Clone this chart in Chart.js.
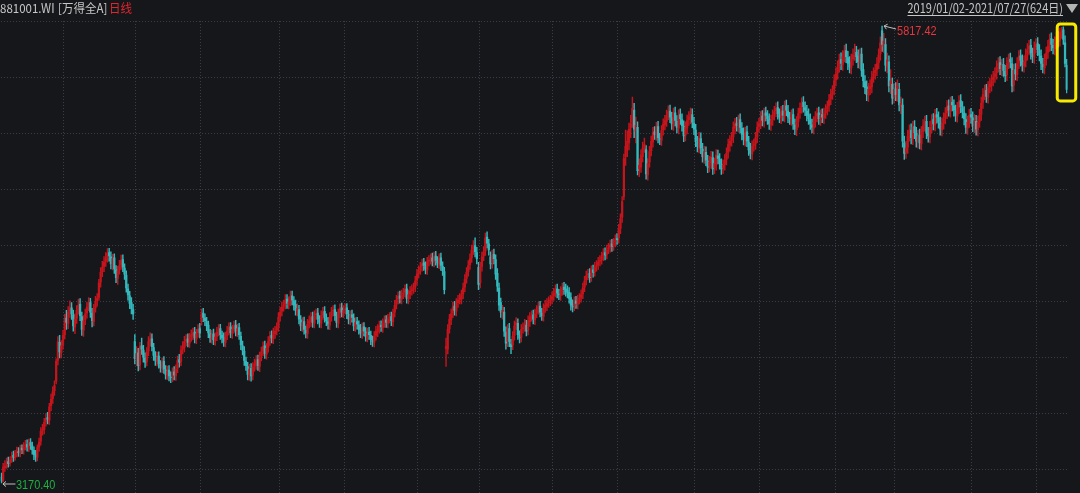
<!DOCTYPE html>
<html>
<head>
<meta charset="utf-8">
<script src="https://cdn.jsdelivr.net/npm/chart.js"></script>
<style>
  html, body { margin: 0; padding: 0; background: #15171b; }
  #wrap { width: 1080px; height: 493px; }
</style>
</head>
<body>
<div id="wrap"><canvas id="kline"></canvas></div>
<script>
// 881001.WI daily candles, 2019/01/02 - 2021/07/27 (624 sessions)
const opens = [
  3205, 3185, 3258, 3275, 3294, 3286, 3310, 3330, 3320, 3345,
  3352, 3344, 3372, 3360, 3384, 3395, 3374, 3404, 3386, 3360,
  3338, 3320, 3378, 3412, 3475, 3480, 3525, 3550, 3535, 3618,
  3660, 3705, 3760, 3880, 3985, 3925, 3970, 4030, 4125, 4095,
  4165, 4185, 4145, 4075, 4125, 4175, 4205, 4135, 4055, 4115,
  4155, 4195, 4215, 4155, 4105, 4185, 4225, 4245, 4335, 4395,
  4425, 4455, 4475, 4505, 4480, 4435, 4475, 4405, 4355, 4405,
  4435, 4465, 4415, 4375, 4295, 4255, 4215, 4175, 3990, 3885,
  3925, 3855, 3965, 3940, 3895, 3875, 3935, 3995, 4005, 3955,
  3905, 3875, 3905, 3855, 3835, 3875, 3825, 3795, 3825, 3785,
  3785, 3815, 3790, 3835, 3885, 3875, 3945, 3955, 3995, 4005,
  3980, 4015, 4025, 4045, 4005, 4040, 4065, 4110, 4155, 4125,
  4105, 4085, 4035, 4005, 4035, 3995, 4020, 4050, 4065, 4025,
  4015, 3985, 4025, 4055, 4075, 4035, 4065, 4085, 4045, 4070,
  4020, 3965, 3935, 3875, 3845, 3795, 3835, 3795, 3845, 3855,
  3885, 3845, 3905, 3935, 3965, 3915, 3955, 3995, 4025, 4005,
  4035, 4055, 4075, 4135, 4165, 4195, 4205, 4235, 4205, 4225,
  4255, 4225, 4205, 4165, 4175, 4115, 4075, 4105, 4055, 4035,
  4095, 4105, 4135, 4095, 4145, 4155, 4115, 4095, 4145, 4165,
  4125, 4105, 4085, 4135, 4165, 4175, 4135, 4095, 4155, 4185,
  4155, 4175, 4185, 4145, 4115, 4145, 4125, 4075, 4105, 4085,
  4065, 4035, 4075, 4045, 4015, 4045, 4025, 3995, 3985, 4025,
  4045, 4065, 4085, 4070, 4100, 4115, 4095, 4125, 4135, 4105,
  4160, 4205, 4235, 4255, 4235, 4265, 4275, 4295, 4235, 4265,
  4285, 4295, 4305, 4345, 4385, 4405, 4425, 4445, 4425, 4405,
  4455, 4465, 4475, 4450, 4485, 4455, 4440, 4475, 4425, 4395,
  3950, 3945, 4065, 4115, 4155, 4195, 4165, 4215, 4235, 4235,
  4265, 4305, 4355, 4395, 4435, 4475, 4525, 4545, 4505, 4420,
  4330, 4425, 4485, 4515, 4595, 4555, 4480, 4445, 4495, 4465,
  4385, 4300, 4215, 4150, 4160, 4045, 3990, 4065, 3975, 3970,
  4025, 4085, 4095, 4025, 4015, 4065, 4075, 4085, 4055, 4105,
  4135, 4145, 4115, 4155, 4175, 4195, 4155, 4135, 4185, 4195,
  4215, 4225, 4235, 4255, 4275, 4295, 4265, 4255, 4285, 4305,
  4295, 4285, 4275, 4245, 4205, 4195, 4225, 4205, 4235, 4245,
  4265, 4305, 4345, 4375, 4385, 4365, 4405, 4395, 4425, 4435,
  4455, 4465, 4485, 4505, 4495, 4525, 4535, 4555, 4545, 4565,
  4585, 4590, 4645, 4710, 4830, 5060, 5100, 5140, 5230, 5260,
  5330, 5210, 5230, 4990, 5000, 5060, 5115, 5100, 4955, 5030,
  5095, 5145, 5205, 5185, 5235, 5165, 5155, 5215, 5245, 5265,
  5305, 5325, 5285, 5245, 5315, 5265, 5225, 5305, 5275, 5235,
  5185, 5225, 5275, 5285, 5305, 5255, 5215, 5145, 5115, 5165,
  5105, 5055, 5085, 5035, 5005, 5025, 5055, 4995, 5015, 5065,
  5045, 5015, 4995, 5015, 5045, 5085, 5125, 5155, 5175, 5225,
  5255, 5235, 5275, 5225, 5195, 5155, 5205, 5145, 5105, 5075,
  5125, 5135, 5175, 5235, 5255, 5295, 5265, 5315, 5295, 5275,
  5245, 5275, 5305, 5325, 5345, 5305, 5285, 5325, 5295, 5355,
  5325, 5285, 5275, 5305, 5245, 5215, 5265, 5315, 5345, 5375,
  5345, 5325, 5305, 5275, 5245, 5225, 5265, 5295, 5315, 5275,
  5305, 5285, 5315, 5335, 5355, 5395, 5425, 5450, 5505, 5545,
  5585, 5625, 5595, 5645, 5675, 5635, 5605, 5575, 5625, 5655,
  5665, 5645, 5605, 5655, 5565, 5495, 5465, 5415, 5455, 5465,
  5525, 5545, 5565, 5605, 5655, 5790, 5700, 5710, 5580, 5610,
  5460, 5480, 5405, 5455, 5415, 5450, 5350, 5360, 5140, 5085,
  5115, 5185, 5215, 5165, 5235, 5195, 5145, 5185, 5135, 5205,
  5245, 5265, 5195, 5175, 5235, 5275, 5245, 5305, 5285, 5255,
  5215, 5255, 5285, 5315, 5355, 5325, 5375, 5355, 5325, 5295,
  5345, 5385, 5345, 5315, 5275, 5225, 5265, 5305, 5285, 5235,
  5265, 5215, 5265, 5305, 5375, 5425, 5445, 5405, 5465, 5475,
  5505, 5525, 5545, 5585, 5605, 5565, 5595, 5555, 5535, 5605,
  5625, 5600, 5475, 5565, 5535, 5605, 5645, 5615, 5585, 5615,
  5655, 5685, 5705, 5655, 5635, 5695, 5715, 5675, 5645, 5595,
  5575, 5625, 5665, 5705, 5745, 5705, 5685, 5725, 5755, 5735,
  5775, 5795, 5720, 5590
];
const highs = [
  3228, 3285, 3300, 3315, 3320, 3322, 3350, 3355, 3360, 3378,
  3375, 3390, 3392, 3405, 3418, 3420, 3425, 3428, 3408, 3380,
  3360, 3392, 3430, 3492, 3510, 3545, 3572, 3580, 3632, 3685,
  3728, 3762, 3890, 4018, 4025, 3995, 4055, 4148, 4170, 4192,
  4225, 4215, 4172, 4150, 4198, 4235, 4238, 4160, 4140, 4178,
  4218, 4245, 4240, 4182, 4205, 4252, 4268, 4350, 4418, 4455,
  4482, 4505, 4528, 4530, 4510, 4495, 4498, 4430, 4425, 4460,
  4490, 4492, 4440, 4400, 4322, 4280, 4245, 4205, 4030, 3960,
  3950, 3985, 4010, 3968, 3925, 3955, 4018, 4040, 4035, 3980,
  3932, 3928, 3930, 3880, 3895, 3902, 3850, 3848, 3850, 3815,
  3838, 3845, 3855, 3905, 3915, 3965, 3990, 4020, 4030, 4035,
  4038, 4058, 4068, 4072, 4060, 4088, 4095, 4178, 4182, 4150,
  4130, 4108, 4060, 4055, 4062, 4040, 4072, 4088, 4090, 4050,
  4040, 4045, 4078, 4098, 4100, 4085, 4108, 4112, 4090, 4095,
  4045, 3992, 3960, 3900, 3870, 3858, 3862, 3868, 3888, 3908,
  3912, 3928, 3958, 3988, 3992, 3978, 4018, 4048, 4052, 4068,
  4078, 4098, 4158, 4188, 4218, 4230, 4262, 4262, 4248, 4282,
  4282, 4250, 4230, 4208, 4200, 4140, 4128, 4132, 4080, 4118,
  4138, 4158, 4160, 4168, 4178, 4182, 4140, 4168, 4188, 4192,
  4150, 4130, 4158, 4188, 4198, 4202, 4160, 4178, 4208, 4212,
  4198, 4208, 4210, 4170, 4168, 4172, 4150, 4128, 4130, 4110,
  4090, 4098, 4100, 4070, 4068, 4072, 4050, 4022, 4048, 4078,
  4088, 4108, 4110, 4122, 4138, 4140, 4148, 4158, 4160, 4178,
  4228, 4258, 4278, 4282, 4288, 4298, 4318, 4322, 4288, 4308,
  4318, 4328, 4368, 4408, 4428, 4448, 4468, 4472, 4452, 4478,
  4488, 4498, 4502, 4508, 4512, 4482, 4498, 4502, 4452, 4420,
  4010, 4088, 4148, 4178, 4218, 4222, 4238, 4258, 4268, 4288,
  4328, 4378, 4418, 4458, 4498, 4548, 4575, 4590, 4535, 4448,
  4448, 4508, 4540, 4618, 4625, 4582, 4510, 4520, 4525, 4492,
  4412, 4328, 4242, 4200, 4188, 4075, 4088, 4095, 4002, 4048,
  4108, 4128, 4122, 4052, 4088, 4098, 4118, 4112, 4138, 4158,
  4168, 4172, 4178, 4198, 4218, 4222, 4182, 4208, 4228, 4238,
  4248, 4258, 4278, 4298, 4318, 4322, 4292, 4308, 4328, 4332,
  4322, 4312, 4302, 4272, 4232, 4248, 4252, 4258, 4268, 4288,
  4328, 4368, 4398, 4408, 4412, 4428, 4432, 4448, 4458, 4478,
  4488, 4508, 4528, 4532, 4548, 4558, 4578, 4582, 4588, 4608,
  4615, 4668, 4730, 4830, 5075, 5215, 5210, 5255, 5300, 5405,
  5370, 5290, 5262, 5048, 5100, 5145, 5168, 5125, 5050, 5120,
  5180, 5230, 5235, 5260, 5265, 5195, 5240, 5280, 5300, 5330,
  5355, 5360, 5318, 5342, 5348, 5298, 5332, 5338, 5308, 5268,
  5262, 5302, 5322, 5342, 5338, 5288, 5248, 5178, 5202, 5198,
  5138, 5122, 5118, 5068, 5062, 5092, 5088, 5052, 5102, 5098,
  5078, 5048, 5042, 5072, 5112, 5162, 5182, 5202, 5262, 5282,
  5288, 5302, 5308, 5258, 5228, 5232, 5238, 5178, 5138, 5152,
  5162, 5202, 5262, 5282, 5322, 5328, 5342, 5348, 5328, 5308,
  5302, 5332, 5352, 5372, 5378, 5338, 5352, 5358, 5382, 5388,
  5358, 5318, 5332, 5338, 5278, 5292, 5342, 5372, 5402, 5408,
  5378, 5358, 5338, 5308, 5278, 5292, 5322, 5342, 5348, 5332,
  5338, 5342, 5362, 5382, 5422, 5452, 5472, 5535, 5575, 5615,
  5655, 5662, 5675, 5705, 5712, 5670, 5640, 5655, 5685, 5712,
  5700, 5680, 5685, 5690, 5600, 5530, 5500, 5485, 5505, 5555,
  5575, 5595, 5635, 5685, 5755, 5817.42, 5775, 5745, 5660, 5645,
  5565, 5515, 5485, 5490, 5505, 5485, 5405, 5395, 5180, 5150,
  5215, 5245, 5250, 5265, 5270, 5230, 5215, 5220, 5235, 5275,
  5295, 5300, 5230, 5265, 5305, 5310, 5335, 5340, 5320, 5290,
  5285, 5315, 5345, 5385, 5390, 5405, 5410, 5390, 5360, 5375,
  5415, 5420, 5380, 5350, 5310, 5295, 5335, 5340, 5320, 5305,
  5300, 5295, 5335, 5405, 5455, 5475, 5480, 5495, 5515, 5535,
  5555, 5575, 5615, 5635, 5640, 5625, 5630, 5590, 5635, 5655,
  5660, 5635, 5595, 5600, 5635, 5675, 5680, 5650, 5645, 5685,
  5715, 5735, 5740, 5690, 5725, 5745, 5750, 5710, 5680, 5630,
  5655, 5695, 5735, 5770, 5778, 5740, 5755, 5782, 5785, 5805,
  5810, 5812, 5760, 5625
];
const lows = [
  3170.4, 3176, 3238, 3255, 3262, 3268, 3290, 3296, 3302, 3322,
  3325, 3322, 3340, 3338, 3362, 3355, 3352, 3365, 3338, 3305,
  3295, 3298, 3355, 3390, 3448, 3455, 3500, 3512, 3510, 3590,
  3632, 3678, 3745, 3855, 3895, 3895, 3945, 4005, 4060, 4065,
  4130, 4118, 4050, 4035, 4095, 4148, 4110, 4025, 4020, 4088,
  4125, 4168, 4130, 4075, 4080, 4160, 4195, 4230, 4305, 4365,
  4395, 4425, 4450, 4455, 4410, 4405, 4385, 4330, 4320, 4380,
  4408, 4395, 4350, 4275, 4230, 4180, 4150, 4118, 3860, 3850,
  3820, 3825, 3915, 3870, 3840, 3848, 3908, 3965, 3935, 3880,
  3852, 3848, 3835, 3812, 3810, 3805, 3772, 3770, 3762, 3752,
  3758, 3768, 3765, 3810, 3842, 3850, 3918, 3930, 3965, 3958,
  3955, 3990, 4000, 3982, 3978, 4015, 4010, 4085, 4105, 4082,
  4052, 4012, 3985, 3980, 3972, 3968, 3995, 4022, 4002, 3982,
  3962, 3958, 4000, 4028, 4012, 4008, 4040, 4022, 4018, 4002,
  3942, 3912, 3852, 3822, 3768, 3765, 3760, 3768, 3818, 3828,
  3822, 3815, 3878, 3908, 3892, 3888, 3928, 3968, 3982, 3978,
  4008, 4028, 4048, 4108, 4138, 4165, 4178, 4182, 4178, 4198,
  4202, 4172, 4142, 4138, 4092, 4052, 4048, 4032, 4010, 4008,
  4068, 4078, 4072, 4068, 4118, 4092, 4072, 4068, 4118, 4102,
  4082, 4062, 4058, 4108, 4138, 4112, 4072, 4068, 4128, 4132,
  4128, 4148, 4122, 4092, 4088, 4102, 4052, 4048, 4062, 4032,
  4012, 4008, 4022, 3992, 3988, 4002, 3972, 3962, 3958, 3998,
  4018, 4038, 4048, 4042, 4072, 4072, 4068, 4098, 4082, 4078,
  4132, 4178, 4208, 4212, 4208, 4238, 4248, 4212, 4208, 4238,
  4258, 4268, 4278, 4318, 4358, 4378, 4398, 4402, 4382, 4378,
  4428, 4438, 4428, 4422, 4432, 4418, 4412, 4402, 4372, 4265,
  3845, 3918, 4038, 4088, 4128, 4142, 4138, 4188, 4208, 4208,
  4238, 4278, 4328, 4368, 4408, 4448, 4495, 4480, 4440, 4290,
  4300, 4398, 4458, 4488, 4532, 4490, 4410, 4415, 4440, 4350,
  4280, 4170, 4130, 4120, 4020, 3945, 3960, 3960, 3920, 3942,
  3998, 4058, 4002, 3982, 3988, 4038, 4048, 4022, 4028, 4078,
  4108, 4092, 4088, 4128, 4148, 4132, 4112, 4108, 4158, 4168,
  4188, 4198, 4208, 4228, 4248, 4242, 4232, 4228, 4258, 4262,
  4252, 4242, 4212, 4172, 4162, 4168, 4182, 4178, 4208, 4218,
  4238, 4278, 4318, 4348, 4332, 4338, 4362, 4368, 4398, 4408,
  4428, 4438, 4458, 4462, 4468, 4498, 4508, 4512, 4518, 4538,
  4552, 4560, 4615, 4680, 4810, 5010, 5060, 5100, 5170, 5230,
  5170, 5140, 4955, 4945, 4970, 5030, 5085, 4930, 4925, 5000,
  5065, 5115, 5160, 5155, 5140, 5130, 5125, 5185, 5215, 5235,
  5275, 5258, 5218, 5212, 5238, 5198, 5192, 5248, 5208, 5148,
  5152, 5192, 5242, 5252, 5228, 5188, 5118, 5088, 5082, 5078,
  5028, 5022, 5008, 4968, 4972, 4992, 4958, 4962, 4982, 5018,
  4988, 4958, 4962, 4982, 5012, 5052, 5092, 5122, 5142, 5192,
  5208, 5202, 5198, 5158, 5128, 5122, 5118, 5068, 5048, 5042,
  5092, 5102, 5142, 5202, 5222, 5238, 5232, 5268, 5248, 5218,
  5212, 5242, 5272, 5292, 5278, 5258, 5252, 5268, 5262, 5298,
  5258, 5248, 5242, 5218, 5188, 5182, 5232, 5282, 5312, 5318,
  5298, 5268, 5248, 5218, 5198, 5192, 5232, 5262, 5248, 5242,
  5258, 5252, 5282, 5302, 5322, 5362, 5392, 5418, 5470, 5510,
  5550, 5565, 5560, 5610, 5605, 5565, 5545, 5540, 5590, 5618,
  5605, 5575, 5570, 5525, 5465, 5425, 5385, 5380, 5420, 5430,
  5490, 5510, 5530, 5570, 5620, 5670, 5665, 5555, 5545, 5435,
  5425, 5365, 5370, 5385, 5380, 5325, 5310, 5115, 5045, 5050,
  5080, 5150, 5135, 5130, 5165, 5115, 5110, 5105, 5100, 5170,
  5210, 5165, 5145, 5140, 5200, 5215, 5210, 5255, 5225, 5185,
  5180, 5220, 5250, 5280, 5295, 5290, 5325, 5295, 5265, 5260,
  5310, 5315, 5285, 5245, 5195, 5190, 5230, 5255, 5205, 5200,
  5185, 5180, 5230, 5270, 5340, 5390, 5375, 5370, 5430, 5440,
  5470, 5490, 5510, 5550, 5535, 5530, 5525, 5495, 5500, 5570,
  5575, 5435, 5440, 5505, 5500, 5570, 5585, 5555, 5550, 5580,
  5620, 5650, 5625, 5605, 5600, 5660, 5645, 5615, 5565, 5545,
  5540, 5590, 5630, 5670, 5675, 5655, 5650, 5690, 5695, 5700,
  5745, 5710, 5580, 5430
];
const closes = [
  3183, 3262, 3270, 3290, 3282, 3305, 3325, 3318, 3342, 3350,
  3346, 3368, 3362, 3380, 3392, 3378, 3400, 3388, 3362, 3335,
  3322, 3375, 3408, 3470, 3482, 3522, 3545, 3538, 3612, 3655,
  3700, 3735, 3875, 3990, 3930, 3965, 4025, 4120, 4100, 4160,
  4180, 4150, 4080, 4120, 4170, 4200, 4140, 4060, 4110, 4150,
  4190, 4210, 4160, 4110, 4180, 4220, 4240, 4330, 4390, 4420,
  4450, 4470, 4500, 4485, 4440, 4470, 4410, 4360, 4400, 4430,
  4460, 4420, 4380, 4300, 4260, 4210, 4180, 4150, 3890, 3920,
  3850, 3960, 3945, 3900, 3870, 3930, 3990, 4000, 3960, 3910,
  3880, 3900, 3860, 3840, 3870, 3830, 3800, 3820, 3790, 3780,
  3810, 3795, 3830, 3880, 3870, 3940, 3960, 3990, 4000, 3985,
  4010, 4030, 4040, 4010, 4035, 4060, 4040, 4150, 4130, 4110,
  4080, 4040, 4010, 4030, 4000, 4015, 4045, 4060, 4030, 4010,
  3990, 4020, 4050, 4070, 4040, 4060, 4080, 4050, 4065, 4030,
  3970, 3940, 3880, 3850, 3800, 3830, 3790, 3840, 3860, 3880,
  3850, 3900, 3930, 3960, 3920, 3950, 3990, 4020, 4010, 4040,
  4050, 4070, 4130, 4160, 4190, 4200, 4230, 4210, 4220, 4250,
  4230, 4200, 4170, 4180, 4120, 4080, 4100, 4060, 4040, 4090,
  4110, 4130, 4100, 4140, 4150, 4120, 4100, 4140, 4160, 4130,
  4110, 4090, 4130, 4160, 4170, 4140, 4100, 4150, 4180, 4160,
  4170, 4180, 4150, 4120, 4140, 4130, 4080, 4100, 4090, 4060,
  4040, 4070, 4050, 4020, 4040, 4030, 4000, 3990, 4020, 4050,
  4060, 4080, 4075, 4095, 4110, 4100, 4120, 4130, 4110, 4150,
  4200, 4230, 4250, 4240, 4260, 4270, 4290, 4240, 4260, 4280,
  4290, 4300, 4340, 4380, 4400, 4420, 4440, 4430, 4410, 4450,
  4460, 4470, 4455, 4480, 4460, 4445, 4470, 4430, 4400, 4290,
  3960, 4060, 4120, 4150, 4190, 4170, 4210, 4230, 4240, 4260,
  4300, 4350, 4390, 4430, 4470, 4520, 4540, 4510, 4470, 4320,
  4420, 4480, 4510, 4590, 4560, 4520, 4440, 4490, 4470, 4380,
  4310, 4200, 4160, 4170, 4050, 3980, 4060, 3990, 3960, 4020,
  4080, 4100, 4030, 4010, 4060, 4070, 4090, 4050, 4110, 4130,
  4140, 4120, 4150, 4170, 4190, 4160, 4140, 4180, 4200, 4210,
  4220, 4230, 4250, 4270, 4290, 4270, 4260, 4280, 4300, 4290,
  4280, 4270, 4240, 4200, 4190, 4220, 4210, 4230, 4240, 4260,
  4300, 4340, 4370, 4380, 4360, 4400, 4390, 4420, 4430, 4450,
  4460, 4480, 4500, 4490, 4520, 4530, 4550, 4540, 4560, 4580,
  4580, 4640, 4700, 4800, 5050, 5120, 5150, 5220, 5250, 5340,
  5220, 5240, 4980, 5010, 5070, 5110, 5130, 4960, 5020, 5090,
  5150, 5200, 5190, 5230, 5170, 5160, 5210, 5250, 5270, 5300,
  5320, 5290, 5250, 5310, 5270, 5230, 5300, 5280, 5240, 5180,
  5230, 5270, 5290, 5310, 5260, 5220, 5150, 5120, 5170, 5110,
  5060, 5090, 5040, 5000, 5030, 5060, 4990, 5020, 5070, 5050,
  5020, 4990, 5010, 5040, 5080, 5130, 5150, 5170, 5230, 5250,
  5240, 5270, 5230, 5190, 5160, 5200, 5150, 5100, 5080, 5120,
  5130, 5170, 5230, 5250, 5290, 5270, 5310, 5300, 5280, 5250,
  5270, 5300, 5320, 5340, 5310, 5290, 5320, 5300, 5350, 5330,
  5290, 5280, 5300, 5250, 5220, 5260, 5310, 5340, 5370, 5350,
  5330, 5300, 5280, 5250, 5230, 5260, 5290, 5310, 5280, 5300,
  5290, 5310, 5330, 5350, 5390, 5420, 5440, 5500, 5540, 5580,
  5620, 5600, 5640, 5670, 5640, 5600, 5580, 5620, 5650, 5660,
  5640, 5610, 5650, 5560, 5500, 5460, 5420, 5450, 5470, 5520,
  5540, 5560, 5600, 5650, 5720, 5710, 5730, 5590, 5620, 5470,
  5500, 5400, 5450, 5420, 5470, 5360, 5370, 5150, 5080, 5110,
  5180, 5210, 5170, 5230, 5200, 5150, 5180, 5140, 5200, 5240,
  5260, 5200, 5180, 5230, 5270, 5250, 5300, 5290, 5260, 5220,
  5250, 5280, 5310, 5350, 5330, 5370, 5360, 5330, 5300, 5340,
  5380, 5350, 5320, 5280, 5230, 5260, 5300, 5290, 5240, 5270,
  5220, 5260, 5300, 5370, 5420, 5440, 5410, 5460, 5480, 5500,
  5520, 5540, 5580, 5600, 5570, 5590, 5560, 5530, 5600, 5620,
  5610, 5470, 5560, 5540, 5600, 5640, 5620, 5590, 5610, 5650,
  5680, 5700, 5660, 5640, 5690, 5710, 5680, 5650, 5600, 5580,
  5620, 5660, 5700, 5740, 5710, 5690, 5720, 5750, 5730, 5780,
  5790, 5740, 5600, 5450
];
// first session of every second month (Mar, May, Jul, ...) -> vertical dotted lines
const monthStarts = [37, 79, 117, 163, 201, 244, 280, 323, 361, 406, 444, 488, 523, 568, 606];
// horizontal dotted lines
const yGrid = [3246, 3571, 3896, 4221, 4546, 4871, 5196, 5521, 5846];
const yMin = 3112.5, yMax = 5846.3;

const upColor = '#c4141c';
const downColor = '#34b8bc';
const gridColor = '#3a3d45';
const labels = closes.map((c, i) => i);
const candleColor = closes.map((c, i) => c >= opens[i] ? upColor : downColor);

// text squeezed sideways a little, the original uses a narrow UI font
function squeezed(ctx, str, x, y, color, font, sx, align) {
  ctx.save();
  ctx.font = font;
  ctx.fillStyle = color;
  ctx.textAlign = align || 'left';
  ctx.textBaseline = 'middle';
  ctx.translate(x, y);
  ctx.scale(sx, 1);
  ctx.fillText(str, 0, 0);
  const w = ctx.measureText(str).width * sx;
  ctx.restore();
  return w;
}

const overlay = {
  id: 'overlay',
  beforeDraw(chart) {
    const c = chart.ctx;
    c.save();
    c.fillStyle = '#15171b';
    c.fillRect(0, 0, chart.width, chart.height);
    c.restore();
  },
  afterDraw(chart) {
    const ctx = chart.ctx;
    const xs = chart.scales.x, ys = chart.scales.y;
    const cjk = '12.5px "Noto Sans CJK SC", sans-serif';

    // header, left
    squeezed(ctx, '881001.WI', 0, 8, '#c6c6c6', cjk, 0.92);
    squeezed(ctx, '[万得全A]', 58, 8, '#c6c6c6', cjk, 0.92);
    squeezed(ctx, '日线', 109, 8, '#e0262c', cjk, 0.92);

    // header, right
    const w = squeezed(ctx, '2019/01/02-2021/07/27(624日)', 1063, 8, '#c6c6c6', cjk, 0.88, 'right');
    ctx.save();
    ctx.fillStyle = '#c6c6c6';
    ctx.fillRect(1063 - w, 15, w, 1);
    ctx.fillStyle = '#b4b4b4';
    ctx.beginPath();
    ctx.moveTo(1066, 4); ctx.lineTo(1078, 4); ctx.lineTo(1072, 13);
    ctx.closePath(); ctx.fill();
    ctx.restore();

    // max / min markers
    let iMax = 0, iMin = 0;
    highs.forEach((h, i) => { if (h > highs[iMax]) iMax = i; });
    lows.forEach((l, i) => { if (l < lows[iMin]) iMin = i; });
    const arrow = (x1, y1, x2, y2) => {
      ctx.save();
      ctx.strokeStyle = '#c0c0c0';
      ctx.lineWidth = 1;
      ctx.beginPath();
      ctx.moveTo(x2, y2); ctx.lineTo(x1, y1);
      const a = Math.atan2(y2 - y1, x2 - x1);
      ctx.moveTo(x1 + 4 * Math.cos(a - 0.7), y1 + 4 * Math.sin(a - 0.7));
      ctx.lineTo(x1, y1);
      ctx.lineTo(x1 + 4 * Math.cos(a + 0.7), y1 + 4 * Math.sin(a + 0.7));
      ctx.stroke();
      ctx.restore();
    };
    const num = '13px "Liberation Sans", Arial, sans-serif';
    let px = xs.getPixelForValue(iMax), py = ys.getPixelForValue(highs[iMax]);
    arrow(px + 2, py, px + 14, py + 3);
    squeezed(ctx, highs[iMax].toFixed(2), px + 15, py + 5, '#e8363d', num, 0.84);
    px = xs.getPixelForValue(iMin); py = ys.getPixelForValue(lows[iMin]);
    arrow(px + 1.5, py + 1, px + 14, py + 1);
    squeezed(ctx, lows[iMin].toFixed(2), px + 14.5, py + 2, '#1fb040', num, 0.84);

    // yellow highlight round the last sessions
    const n = closes.length;
    const tail = [n - 4, n - 3, n - 2, n - 1];
    const top = ys.getPixelForValue(Math.max(...tail.map(i => highs[i]))) - 3;
    const bot = ys.getPixelForValue(Math.min(...tail.map(i => lows[i]))) + 8;
    const xl = xs.getPixelForValue(n - 1) - 9.5, xr = xs.getPixelForValue(n - 1) + 9;
    ctx.save();
    ctx.strokeStyle = '#f7ea00';
    ctx.lineWidth = 3;
    ctx.beginPath();
    ctx.roundRect(xl, top, xr - xl, bot - top, 3);
    ctx.stroke();
    ctx.restore();
  }
};

new Chart(document.getElementById('kline'), {
  type: 'bar',
  data: {
    labels: labels,
    datasets: [{
      label: 'body',
      data: opens.map((o, i) => [o, closes[i]]),
      backgroundColor: candleColor,
      barThickness: 1.6,
      minBarLength: 1,
      grouped: false
    }, {
      label: 'wick',
      data: lows.map((l, i) => [l, highs[i]]),
      backgroundColor: candleColor,
      barThickness: 0.8,
      grouped: false
    }]
  },
  options: {
    responsive: true,
    maintainAspectRatio: false,
    animation: false,
    layout: { padding: { top: 21, left: 0.6, right: 12.4, bottom: 0 } },
    plugins: { legend: { display: false }, tooltip: { enabled: false } },
    scales: {
      x: {
        type: 'category',
        offset: true,
        ticks: { display: false },
        grid: {
          offset: true,
          drawTicks: false,
          color: ctx => monthStarts.includes(ctx.index) ? gridColor : 'transparent'
        },
        border: { display: false, dash: [1, 2] }
      },
      y: {
        min: yMin,
        max: yMax,
        afterBuildTicks: s => { s.ticks = yGrid.map(v => ({ value: v })); },
        ticks: { display: false },
        grid: { color: gridColor, drawTicks: false },
        border: { display: false, dash: [1, 2] }
      }
    }
  },
  plugins: [overlay]
});
</script>
</body>
</html>
